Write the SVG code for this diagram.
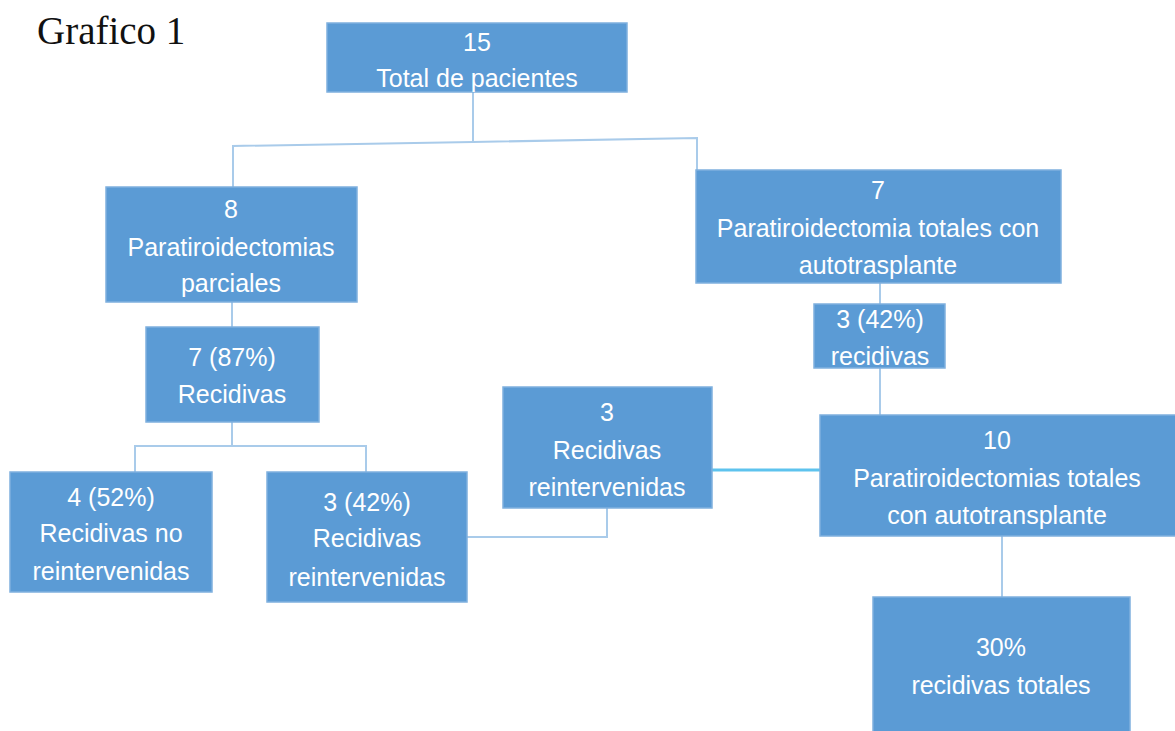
<svg xmlns="http://www.w3.org/2000/svg" width="1175" height="731" viewBox="0 0 1175 731">
<style>
.box{fill:#5B9BD5;stroke:#7FB0DE;stroke-width:1.5}
.t{font-family:"Liberation Sans",Arial,sans-serif;font-size:25px;fill:#FFFFFF;text-anchor:middle}
.c{fill:none;stroke:#A9CBEA;stroke-width:2}
.c2{fill:none;stroke:#5EC3EE;stroke-width:3}
.title{font-family:"Liberation Serif","Times New Roman",serif;font-size:39px;fill:#111111}
</style>
<rect width="1175" height="731" fill="#FFFFFF"/>
<text class="title" x="37" y="44">Grafico 1</text>
<g id="connectors">
<polyline class="c" points="473,92 473,143"/>
<polyline class="c" points="233,187 233,146 473,142 697,138 697,170"/>
<polyline class="c" points="880,283 880,304"/>
<polyline class="c" points="880,368 880,415"/>
<polyline class="c" points="232,302 232,327"/>
<polyline class="c" points="232,422 232,446"/>
<polyline class="c" points="135,472 135,446 366,446 366,472"/>
<polyline class="c" points="607,508 607,537 467,537"/>
<polyline class="c2" points="712,470 820,470"/>
<polyline class="c" points="1002,536 1002,597"/>
</g>
<g id="n-total">
<rect class="box" x="327" y="23" width="300" height="69"/>
<text class="t" x="477" y="51">15</text>
<text class="t" x="477" y="87">Total de pacientes</text>
</g>
<g id="n-parciales">
<rect class="box" x="106" y="187" width="251" height="115"/>
<text class="t" x="231" y="218">8</text>
<text class="t" x="231" y="256">Paratiroidectomias</text>
<text class="t" x="231" y="292">parciales</text>
</g>
<g id="n-totales7">
<rect class="box" x="696" y="170" width="365" height="113"/>
<text class="t" x="878" y="199">7</text>
<text class="t" x="878" y="237">Paratiroidectomia totales con</text>
<text class="t" x="878" y="274">autotrasplante</text>
</g>
<g id="n-recidivas3">
<rect class="box" x="814" y="304" width="131" height="64"/>
<text class="t" x="880" y="328">3 (42%)</text>
<text class="t" x="880" y="365">recidivas</text>
</g>
<g id="n-recidivas7">
<rect class="box" x="146" y="327" width="173" height="95"/>
<text class="t" x="232" y="366">7 (87%)</text>
<text class="t" x="232" y="403">Recidivas</text>
</g>
<g id="n-noreint">
<rect class="box" x="10" y="472" width="202" height="120"/>
<text class="t" x="111" y="506">4 (52%)</text>
<text class="t" x="111" y="542">Recidivas no</text>
<text class="t" x="111" y="580">reintervenidas</text>
</g>
<g id="n-reint3">
<rect class="box" x="267" y="472" width="200" height="130"/>
<text class="t" x="367" y="511">3 (42%)</text>
<text class="t" x="367" y="547">Recidivas</text>
<text class="t" x="367" y="586">reintervenidas</text>
</g>
<g id="n-reint">
<rect class="box" x="503" y="387" width="209" height="121"/>
<text class="t" x="607" y="421">3</text>
<text class="t" x="607" y="459">Recidivas</text>
<text class="t" x="607" y="496">reintervenidas</text>
</g>
<g id="n-totales10">
<rect class="box" x="820" y="415" width="360" height="121"/>
<text class="t" x="997" y="449">10</text>
<text class="t" x="997" y="487">Paratiroidectomias totales</text>
<text class="t" x="997" y="524">con autotransplante</text>
</g>
<g id="n-recidivastotales">
<rect class="box" x="873" y="597" width="257" height="140"/>
<text class="t" x="1001" y="656">30%</text>
<text class="t" x="1001" y="694">recidivas totales</text>
</g>
</svg>
